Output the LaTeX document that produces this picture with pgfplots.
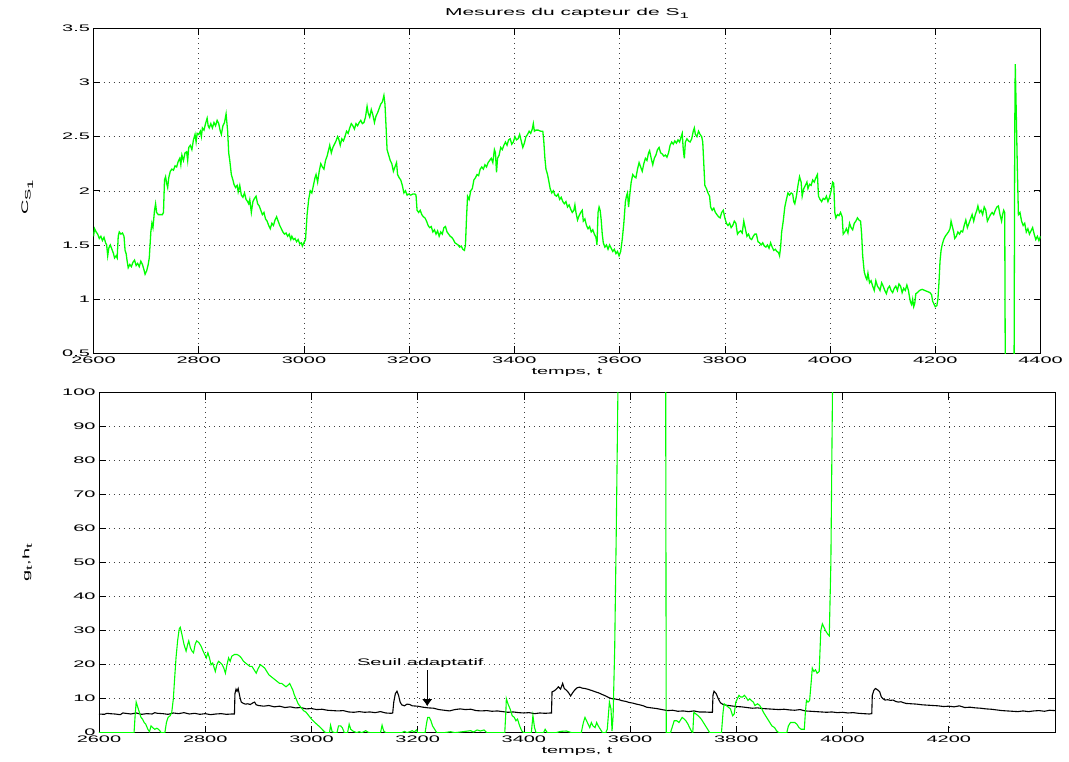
\documentclass[border=0pt]{standalone}
\usepackage{fontspec}
\setmainfont{Liberation Sans}[FakeStretch=2.1]
\usepackage{pgfplots}
\pgfplotsset{compat=1.18}
\usetikzlibrary{arrows.meta}
\definecolor{mgreen}{RGB}{0,255,0}
\pgfplotsset{
  mstyle/.style={
    scale only axis, anchor=south west,
    /pgf/number format/assume math mode=true,
    /pgf/number format/1000 sep={},
    scaled ticks=false,
    tick align=inside, major tick length=7pt,
    tick style={black, line width=0.6pt},
    axis line style={black, line width=0.9pt},
    grid=major,
    major grid style={black!75, line width=0.5pt, dash pattern=on 0.7pt off 4.3pt},
    ticklabel style={font=\fontsize{9.5}{11}\selectfont},
    label style={font=\fontsize{9.5}{11}\selectfont},
    clip=true,
  }
}
\newcommand{\sub}[1]{\raisebox{-2.5pt}{\fontsize{8}{9}\selectfont #1}}
\begin{document}
\begin{tikzpicture}
\path[use as bounding box] (0pt,0pt) rectangle (1069pt,762pt);
% ---------------- top axis ----------------
\begin{axis}[mstyle,
  at={(93.5pt,408.7pt)}, width=947pt, height=325pt,
  xmin=2600, xmax=4400, ymin=0.5, ymax=3.5,
  xtick={2600,2800,3000,3200,3400,3600,3800,4000,4200,4400},
  ytick={0.5,1,1.5,2,2.5,3,3.5},
  yticklabels={0.5,1,1.5,2,2.5,3,3.5},
  title={Mesures du capteur de S\sub{1}},
  title style={font=\fontsize{10}{12}\selectfont, at={(axis description cs:0.5,1.027)}, anchor=center},
  xlabel={temps, t},
  xlabel style={at={(axis description cs:0.5,-0.058)}, anchor=center},
  ylabel={C\sub{S\sub{1}}},
  ylabel style={at={(axis description cs:-0.07,0.48)}, anchor=center},
]
\addplot[mgreen, line width=1.3pt] coordinates {
(2600,1.58)(2602,1.65)(2605,1.62)(2608,1.6)(2611,1.56)(2614,1.58)(2617,1.54)(2620,1.57)(2623,1.52)(2625,1.5)
(2627,1.40)(2629,1.47)(2632,1.50)(2635,1.46)(2638,1.42)(2640,1.38)(2643,1.40)(2645,1.38)(2647,1.58)(2649,1.62)
(2652,1.60)(2655,1.61)(2658,1.58)(2660,1.45)(2662,1.42)(2664,1.35)(2666,1.29)(2669,1.32)(2672,1.30)(2675,1.34)
(2678,1.36)(2681,1.31)(2684,1.33)(2687,1.30)(2690,1.35)(2693,1.32)(2696,1.27)(2698,1.23)(2701,1.26)(2704,1.32)
(2706,1.38)(2709,1.62)(2711,1.70)(2713,1.66)(2716,1.82)(2718,1.88)(2720,1.80)(2723,1.78)(2727,1.78)(2731,1.78)
(2733,1.80)(2735,2.10)(2737,2.13)(2739,2.07)(2741,2.03)(2743,2.12)(2746,2.18)(2749,2.20)(2752,2.19)(2755,2.23)
(2758,2.22)(2761,2.27)(2764,2.30)(2766,2.24)(2768,2.33)(2771,2.28)(2774,2.35)(2777,2.36)(2779,2.28)(2781,2.40)
(2784,2.42)(2787,2.38)(2790,2.47)(2793,2.52)(2795,2.45)(2797,2.53)(2800,2.52)(2803,2.55)(2805,2.50)(2807,2.58)
(2810,2.56)(2813,2.62)(2816,2.67)(2818,2.60)(2820,2.58)(2823,2.62)(2826,2.58)(2829,2.63)(2832,2.60)(2835,2.65)
(2838,2.62)(2841,2.55)(2843,2.52)(2846,2.60)(2849,2.63)(2852,2.71)(2855,2.55)(2857,2.35)(2859,2.28)(2862,2.15)
(2865,2.10)(2867,2.06)(2870,2.03)(2873,2.05)(2875,1.99)(2878,2.05)(2881,1.96)(2884,1.94)(2887,1.98)(2890,1.92)
(2893,1.90)(2895,1.88)(2897,1.92)(2900,1.80)(2903,1.90)(2906,1.93)(2909,1.95)(2912,1.88)(2915,1.86)(2918,1.82)
(2921,1.78)(2924,1.80)(2927,1.74)(2930,1.72)(2933,1.68)(2936,1.65)(2939,1.70)(2942,1.68)(2945,1.73)(2948,1.76)
(2951,1.72)(2954,1.68)(2957,1.65)(2960,1.62)(2963,1.60)(2966,1.61)(2969,1.58)(2972,1.60)(2975,1.55)(2977,1.58)
(2980,1.55)(2983,1.56)(2986,1.53)(2989,1.55)(2992,1.51)(2995,1.52)(2997,1.49)(3000,1.52)(3003,1.55)(3006,1.78)
(3009,1.92)(3012,2.00)(3015,1.98)(3018,2.05)(3021,2.12)(3023,2.15)(3026,2.08)(3029,2.18)(3032,2.25)(3035,2.22)
(3038,2.20)(3041,2.28)(3044,2.32)(3047,2.38)(3049,2.42)(3052,2.35)(3055,2.40)(3058,2.43)(3061,2.46)(3064,2.50)
(3066,2.48)(3069,2.42)(3072,2.48)(3075,2.46)(3078,2.50)(3081,2.55)(3084,2.53)(3087,2.58)(3090,2.62)(3093,2.60)
(3096,2.57)(3099,2.62)(3102,2.60)(3105,2.63)(3108,2.65)(3111,2.62)(3114,2.63)(3117,2.68)(3120,2.78)(3122,2.72)
(3125,2.68)(3128,2.75)(3131,2.70)(3134,2.63)(3137,2.69)(3140,2.72)(3143,2.76)(3146,2.80)(3149,2.82)(3152,2.88)
(3154,2.80)(3156,2.60)(3158,2.38)(3161,2.33)(3164,2.28)(3167,2.25)(3170,2.18)(3173,2.22)(3176,2.26)(3178,2.15)
(3181,2.12)(3184,2.10)(3187,2.05)(3190,1.98)(3193,2.0)(3196,1.96)(3199,1.97)(3203,1.96)(3207,1.97)(3211,1.97)
(3213,1.96)(3215,1.82)(3218,1.80)(3221,1.82)(3224,1.78)(3227,1.76)(3230,1.75)(3233,1.72)(3236,1.68)(3239,1.66)
(3242,1.67)(3245,1.62)(3248,1.64)(3251,1.60)(3254,1.63)(3257,1.58)(3260,1.62)(3263,1.60)(3266,1.66)(3269,1.67)
(3272,1.62)(3275,1.60)(3278,1.58)(3281,1.57)(3284,1.55)(3287,1.52)(3290,1.51)(3293,1.50)(3296,1.48)(3299,1.49)
(3302,1.46)(3305,1.45)(3307,1.50)(3309,1.75)(3311,1.95)(3314,1.92)(3317,2.00)(3320,2.02)(3323,2.10)(3326,2.12)
(3329,2.15)(3332,2.14)(3335,2.20)(3338,2.22)(3341,2.20)(3344,2.24)(3347,2.22)(3350,2.26)(3353,2.28)(3356,2.30)
(3359,2.26)(3362,2.38)(3364,2.35)(3366,2.17)(3368,2.30)(3371,2.33)(3374,2.40)(3377,2.38)(3380,2.42)(3383,2.45)
(3386,2.42)(3389,2.47)(3392,2.48)(3395,2.43)(3398,2.45)(3401,2.50)(3404,2.47)(3407,2.48)(3410,2.52)(3413,2.46)
(3416,2.40)(3419,2.44)(3422,2.50)(3425,2.52)(3428,2.55)(3431,2.53)(3434,2.57)(3436,2.62)(3438,2.55)(3441,2.56)
(3445,2.56)(3450,2.55)(3454,2.55)(3456,2.45)(3458,2.30)(3460,2.20)(3463,2.15)(3465,2.10)(3468,2.02)(3471,1.98)
(3474,2.00)(3477,1.96)(3480,1.95)(3483,1.97)(3486,1.92)(3489,1.94)(3492,1.90)(3495,1.88)(3498,1.90)(3501,1.85)
(3504,1.87)(3507,1.83)(3510,1.80)(3513,1.82)(3515,1.87)(3517,1.80)(3520,1.73)(3523,1.77)(3526,1.80)(3529,1.82)
(3531,1.72)(3534,1.74)(3537,1.68)(3540,1.65)(3543,1.67)(3546,1.62)(3549,1.64)(3552,1.60)(3555,1.57)(3557,1.50)
(3559,1.80)(3561,1.85)(3563,1.82)(3565,1.73)(3567,1.60)(3569,1.52)(3572,1.48)(3575,1.50)(3578,1.46)(3581,1.50)
(3584,1.47)(3587,1.44)(3590,1.46)(3593,1.42)(3596,1.44)(3599,1.40)(3602,1.44)(3605,1.55)(3608,1.70)(3611,1.90)
(3613,1.95)(3615,1.98)(3617,1.85)(3619,1.95)(3622,2.08)(3625,2.15)(3628,2.13)(3631,2.12)(3634,2.20)(3637,2.26)
(3640,2.22)(3643,2.18)(3646,2.25)(3649,2.30)(3652,2.28)(3655,2.35)(3657,2.37)(3660,2.30)(3663,2.24)(3666,2.30)
(3669,2.33)(3672,2.38)(3675,2.40)(3678,2.35)(3681,2.34)(3684,2.32)(3687,2.33)(3690,2.31)(3693,2.35)(3696,2.42)
(3699,2.45)(3702,2.43)(3705,2.46)(3708,2.44)(3711,2.47)(3714,2.45)(3717,2.50)(3719,2.53)(3721,2.38)(3723,2.30)
(3725,2.45)(3728,2.48)(3731,2.46)(3734,2.45)(3737,2.48)(3740,2.55)(3742,2.58)(3744,2.52)(3747,2.50)(3750,2.55)
(3753,2.52)(3756,2.50)(3758,2.45)(3760,2.25)(3762,2.05)(3765,2.02)(3768,1.98)(3771,1.95)(3773,1.85)(3776,1.82)
(3779,1.84)(3782,1.80)(3785,1.78)(3788,1.76)(3791,1.75)(3794,1.80)(3797,1.82)(3800,1.75)(3803,1.70)(3806,1.68)
(3809,1.70)(3812,1.66)(3815,1.68)(3818,1.72)(3821,1.70)(3824,1.60)(3827,1.62)(3830,1.63)(3833,1.61)(3836,1.72)
(3839,1.65)(3842,1.58)(3845,1.60)(3848,1.56)(3851,1.55)(3854,1.58)(3857,1.60)(3860,1.60)(3863,1.53)(3866,1.52)
(3869,1.50)(3872,1.52)(3875,1.49)(3878,1.48)(3881,1.50)(3884,1.47)(3887,1.52)(3890,1.48)(3893,1.45)(3896,1.46)
(3899,1.44)(3902,1.43)(3904,1.40)(3906,1.48)(3908,1.62)(3911,1.72)(3914,1.85)(3917,1.92)(3920,1.98)(3923,1.96)
(3926,1.98)(3929,1.97)(3931,1.90)(3933,1.88)(3936,1.95)(3939,2.05)(3942,2.13)(3945,2.08)(3947,1.95)(3950,2.02)
(3953,2.05)(3956,2.08)(3958,2.02)(3961,2.06)(3964,2.05)(3967,2.10)(3970,2.08)(3973,2.12)(3976,2.15)(3978,1.95)
(3981,1.92)(3984,1.90)(3987,1.93)(3990,1.92)(3993,1.95)(3996,1.90)(3999,1.94)(4002,2.0)(4005,2.08)(4007,2.07)
(4009,1.80)(4011,1.75)(4014,1.78)(4017,1.77)(4020,1.80)(4023,1.76)(4025,1.60)(4028,1.62)(4031,1.65)(4034,1.61)
(4037,1.70)(4040,1.66)(4043,1.64)(4046,1.70)(4049,1.72)(4052,1.75)(4055,1.73)(4058,1.72)(4060,1.60)(4062,1.40)
(4065,1.25)(4068,1.20)(4070,1.18)(4072,1.24)(4075,1.15)(4078,1.17)(4081,1.12)(4084,1.08)(4087,1.17)(4090,1.12)
(4093,1.10)(4095,1.08)(4098,1.15)(4101,1.12)(4104,1.08)(4107,1.05)(4110,1.10)(4113,1.12)(4116,1.08)(4119,1.06)
(4122,1.10)(4125,1.12)(4128,1.08)(4131,1.14)(4134,1.12)(4137,1.06)(4140,1.10)(4143,1.08)(4146,1.13)(4149,1.08)
(4151,1.02)(4153,0.97)(4155,0.95)(4157,1.00)(4159,0.93)(4161,0.96)(4163,1.05)(4166,1.06)(4170,1.08)(4175,1.09)
(4180,1.08)(4185,1.07)(4190,1.06)(4193,1.04)(4195,0.98)(4198,0.95)(4200,0.93)(4203,0.94)(4205,1.00)(4207,1.15)
(4209,1.35)(4211,1.45)(4213,1.50)(4216,1.55)(4219,1.58)(4222,1.60)(4225,1.62)(4228,1.65)(4230,1.72)(4232,1.68)
(4235,1.62)(4237,1.56)(4240,1.58)(4243,1.62)(4246,1.60)(4249,1.63)(4252,1.62)(4255,1.68)(4258,1.73)(4261,1.66)
(4264,1.70)(4267,1.74)(4270,1.78)(4273,1.72)(4276,1.78)(4279,1.82)(4281,1.86)(4284,1.80)(4287,1.82)(4290,1.78)
(4293,1.85)(4296,1.82)(4299,1.72)(4302,1.75)(4305,1.78)(4308,1.80)(4311,1.78)(4314,1.82)(4317,1.85)(4320,1.86)
(4323,1.78)(4326,1.72)(4328,1.78)(4330,1.82)(4332,1.80)(4334,-1)(4349,-1)(4351,2.5)(4352,3.17)(4354,2.7)
(4356,2.2)(4358,1.78)(4361,1.80)(4364,1.72)(4367,1.68)(4370,1.70)(4373,1.62)(4376,1.65)(4379,1.60)(4382,1.63)
(4385,1.66)(4388,1.60)(4391,1.55)(4394,1.58)(4397,1.54)(4400,1.58)
};
\end{axis}
% ---------------- bottom axis ----------------
\begin{axis}[mstyle,
  at={(99pt,29.3pt)}, width=956pt, height=340pt,
  xmin=2600, xmax=4400, ymin=0, ymax=100,
  xtick={2600,2800,3000,3200,3400,3600,3800,4000,4200},
  ytick={0,10,20,30,40,50,60,70,80,90,100},
  xlabel={temps, t},
  xlabel style={at={(axis description cs:0.5,-0.056)}, anchor=center},
  ylabel={g\sub{t},h\sub{t}},
  ylabel style={at={(axis description cs:-0.075,0.5)}, anchor=center},
]
\addplot[black, line width=1.1pt] coordinates {
(2600,5.5)(2610,5.4)(2615,5.7)(2620,5.6)(2630,5.5)(2640,5.3)(2645,5.8)(2650,5.7)(2660,5.5)(2670,5.8)(2680,5.4)
(2690,5.6)(2700,5.5)(2705,5.9)(2710,5.7)(2720,5.6)(2730,5.4)(2740,5.8)(2750,5.6)(2760,5.9)(2770,5.5)(2780,5.7)
(2790,5.4)(2800,5.6)(2810,5.3)(2820,5.5)(2830,5.6)(2840,5.4)(2850,5.5)(2855,5.5)(2856,11.5)(2858,12.8)(2860,12.2)
(2862,13.0)(2864,11.5)(2866,10.0)(2868,9.0)(2872,8.6)(2876,8.4)(2880,8.5)(2885,8.3)(2890,8.8)(2893,9.0)(2896,8.2)
(2900,8.0)(2910,7.8)(2920,8.0)(2930,7.6)(2940,7.8)(2950,7.4)(2960,7.6)(2970,7.3)(2980,7.4)(2990,7.0)(3000,7.1)
(3010,6.8)(3020,6.9)(3030,6.6)(3040,6.5)(3050,6.4)(3060,6.5)(3070,6.1)(3080,6.0)(3090,6.2)(3100,6.0)(3110,6.1)
(3120,5.9)(3130,6.2)(3140,5.8)(3150,5.7)(3153,5.8)(3155,9.0)(3158,11.5)(3161,12.2)(3164,11.0)(3167,9.0)(3170,8.2)
(3175,7.9)(3180,8.4)(3185,8.3)(3190,7.9)(3200,7.8)(3210,7.5)(3220,7.3)(3230,7.2)(3240,6.8)(3250,6.6)(3260,6.4)
(3270,6.8)(3280,7.0)(3290,6.8)(3300,6.9)(3310,6.5)(3320,6.4)(3330,6.5)(3340,6.3)(3350,6.4)(3360,6.2)(3370,6.0)
(3380,6.1)(3390,5.9)(3400,5.8)(3410,5.9)(3420,5.6)(3430,5.8)(3440,5.7)(3450,5.8)(3452,5.8)(3453,12.0)(3457,12.3)
(3461,12.8)(3465,13.5)(3469,12.8)(3473,14.5)(3476,13.0)(3480,12.5)(3484,11.8)(3488,10.8)(3492,11.8)(3496,12.6)
(3500,13.2)(3505,13.4)(3510,13.1)(3515,13.0)(3520,12.8)(3528,12.4)(3535,12.0)(3541,11.7)(3548,11.2)(3554,10.8)
(3560,10.3)(3566,10.0)(3572,9.9)(3579,9.7)(3585,9.4)(3592,9.2)(3598,8.9)(3605,8.7)(3612,8.4)(3618,8.2)(3625,7.9)
(3631,7.5)(3640,7.3)(3650,7.1)(3660,6.8)(3670,6.5)(3680,6.6)(3690,6.3)(3700,6.4)(3710,6.2)(3720,6.4)(3730,6.1)
(3740,6.1)(3750,6.0)(3755,6.0)(3756,11.0)(3758,12.2)(3762,11.5)(3766,10.0)(3770,8.8)(3775,8.3)(3780,8.1)(3790,7.9)
(3800,7.7)(3810,7.6)(3820,7.4)(3830,7.2)(3840,7.3)(3850,7.1)(3860,7.0)(3870,6.9)(3880,6.8)(3890,6.9)(3900,6.7)
(3910,6.6)(3920,6.8)(3930,6.4)(3940,6.3)(3950,6.2)(3960,6.1)(3970,6.0)(3980,6.1)(3990,5.9)(4000,6.0)(4010,5.8)
(4020,5.9)(4030,5.7)(4040,5.6)(4050,5.5)(4055,5.6)(4056,11.0)(4059,12.5)(4062,13.0)(4066,12.6)(4070,12.0)
(4073,10.5)(4076,10.0)(4080,9.6)(4085,9.7)(4090,9.5)(4095,9.6)(4100,9.2)(4105,9.0)(4110,9.1)(4115,8.8)(4120,8.6)
(4130,8.5)(4140,8.4)(4150,8.2)(4160,8.1)(4170,8.0)(4180,7.9)(4190,7.7)(4200,7.8)(4210,7.6)(4220,7.9)(4230,7.4)
(4240,7.5)(4250,7.3)(4260,7.2)(4270,7.0)(4280,6.9)(4290,6.7)(4300,6.5)(4310,6.4)(4320,6.3)(4330,6.2)(4340,6.4)
(4350,6.2)(4360,6.4)(4370,6.5)(4380,6.3)(4390,6.6)(4400,6.5)
};
\addplot[mgreen, line width=1.1pt] coordinates {
(2600,0)(2666,0)(2668,5)(2670,9)(2673,7.5)(2676,6)(2679,4.5)(2682,4)(2685,3)(2688,2.5)(2692,1)(2695,0.3)(2698,2)
(2701,1.5)(2705,1)(2709,1.3)(2712,1)(2715,0.5)(2717,0)(2724,0)(2727,3)(2730,4.5)(2734,5)(2737,6)(2740,10)(2742,15)
(2745,22)(2748,27)(2751,30.5)(2753,31)(2756,29)(2760,26)(2764,24)(2767,26)(2769,27)(2772,25)(2775,24)(2778,23.5)
(2781,26)(2784,27)(2788,26.5)(2792,25.5)(2796,24)(2799,23)(2802,22)(2805,23.5)(2808,22)(2811,20)(2814,20.5)
(2817,19)(2819,18)(2822,20)(2825,21)(2829,20.5)(2832,20)(2835,19)(2838,17.5)(2841,20)(2844,22)(2847,21)
(2850,22.5)(2855,23)(2860,23)(2865,22.5)(2868,22)(2872,21)(2876,20.5)(2880,20)(2884,19.5)(2888,19.5)(2892,18.5)
(2896,17.5)(2900,19)(2904,20)(2908,19.5)(2912,19)(2916,18)(2920,17)(2924,16.5)(2928,16)(2932,15.5)(2936,15)
(2940,14.5)(2944,14.5)(2948,14)(2952,13.5)(2956,14)(2959,14.5)(2962,13.5)(2965,12.5)(2968,11)(2971,10)(2975,8.5)
(2980,7.5)(2985,6.5)(2990,6)(2995,5)(3000,4)(3005,3.2)(3010,2.5)(3015,1.8)(3020,1)(3025,0.2)(3028,0)(3034,0)
(3036,2.2)(3039,0.3)(3044,0)(3048,0)(3051,2)(3055,2)(3058,1.5)(3062,0)(3068,0)(3071,2.5)(3074,1)(3078,0.5)
(3085,0)(3090,0.3)(3095,0)(3102,0.6)(3106,0.2)(3110,0)(3130,0)(3133,2.2)(3136,0.5)(3140,0)(3170,0)(3175,0.4)
(3180,0)(3190,0.6)(3193,0.2)(3198,0.8)(3200,0)(3214,0)(3217,3)(3219,4.5)(3222,4.5)(3225,3.5)(3228,2)(3232,1)
(3236,0)(3250,0)(3262,0.3)(3270,0)(3290,0.4)(3300,0.6)(3305,0.2)(3312,0.8)(3318,0.5)(3325,0.8)(3330,0)(3364,0)
(3366,6)(3367,10)(3370,8.5)(3374,7)(3378,5)(3382,4.5)(3385,3.5)(3388,4)(3392,2)(3396,0.5)(3400,0)(3414,0)
(3417,5)(3420,1.5)(3423,0)(3437,0)(3440,1)(3444,0)(3460,0)(3470,0.4)(3480,0.5)(3490,0)(3508,0)(3512,3)(3515,4.5)
(3518,3.5)(3521,2.5)(3524,1.5)(3527,3)(3530,2)(3534,1.5)(3537,3)(3540,2)(3544,1)(3548,0)(3554,0)(3557,1)(3559,5)
(3561,9)(3564,7)(3566,0.5)(3568,5)(3571,25)(3574,60)(3577,100)(3580,200)(3666,200)(3668,0)(3676,0)(3680,2)
(3683,3.5)(3688,3.5)(3692,3)(3698,4.5)(3702,4)(3705,3.5)(3709,2.5)(3712,1.5)(3716,0.3)(3718,0)(3720,6)(3724,5.5)
(3728,5)(3731,4.5)(3734,4)(3738,3)(3742,2)(3746,1)(3750,0)(3772,0)(3775,6)(3777,8.5)(3781,8)(3785,7.5)(3789,7)
(3793,5)(3796,5.5)(3799,9)(3802,10)(3805,11)(3808,10.5)(3812,10.5)(3815,11)(3818,10.5)(3822,9.5)(3825,10)
(3828,9.5)(3832,9)(3835,8)(3840,8.5)(3844,8)(3848,7)(3851,6)(3855,5)(3859,4)(3863,3)(3867,2)(3872,1.5)(3876,0.5)
(3880,0)(3895,0)(3898,2)(3902,3)(3906,3)(3910,3)(3914,2.5)(3918,1.5)(3922,1)(3928,1)(3930,6)(3932,9.5)(3935,9)
(3938,9.5)(3941,15)(3943,19)(3946,18)(3949,18.5)(3952,17.5)(3956,18)(3959,30)(3962,32)(3965,31)(3968,30)
(3972,29)(3975,28.5)(3978,50)(3981,100)(3984,200)
};
\node[font=\fontsize{9.5}{11}\selectfont, anchor=center] at (axis cs:3205,20.6) {Seuil adaptatif};
\draw[black, line width=0.8pt, -{Latex[length=7pt,width=10pt]}] (axis cs:3218,18.3) -- (axis cs:3218,7.8);
\end{axis}
\end{tikzpicture}
\end{document}
